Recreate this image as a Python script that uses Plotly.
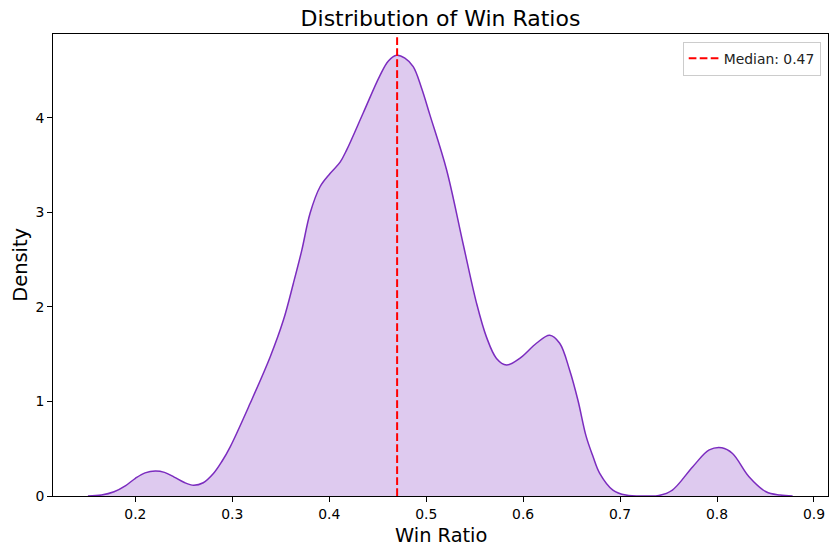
import plotly.graph_objects as go

# KDE curve
win_ratio = [0.151, 0.165, 0.178, 0.19, 0.2, 0.21, 0.2206, 0.23, 0.24, 0.25, 0.26, 0.27,
             0.2807, 0.2895, 0.2978, 0.3184, 0.339, 0.3527, 0.363, 0.3717, 0.3802,
             0.3905, 0.4008, 0.4112, 0.418, 0.435, 0.452, 0.461, 0.4695, 0.478,
             0.4866, 0.495, 0.5038, 0.521, 0.538, 0.5519, 0.5622, 0.5725, 0.5828,
             0.5965, 0.6137, 0.6274, 0.6377, 0.648, 0.6566, 0.665, 0.672, 0.679,
             0.6926, 0.706, 0.727, 0.74, 0.754, 0.775, 0.792, 0.805, 0.816, 0.833,
             0.8506, 0.865, 0.878]
density = [0.0, 0.01, 0.045, 0.11, 0.187, 0.245, 0.265, 0.25, 0.2, 0.145, 0.113, 0.14,
           0.24, 0.37, 0.52, 0.98, 1.47, 1.86, 2.25, 2.60, 2.99,
           3.27, 3.41, 3.53, 3.66, 4.05, 4.44, 4.60, 4.66, 4.63,
           4.54, 4.32, 4.03, 3.45, 2.67, 2.04, 1.68, 1.455, 1.385,
           1.455, 1.615, 1.70, 1.615, 1.33, 1.01, 0.63, 0.42, 0.24,
           0.063, 0.01, 0.0, 0.005, 0.063, 0.31, 0.487, 0.51, 0.45, 0.204,
           0.045, 0.01, 0.0]
median_value = 0.47
median_label = "Median: 0.47"
x_ticks = [0.2, 0.3, 0.4, 0.5, 0.6, 0.7, 0.8, 0.9]
y_ticks = [0, 1, 2, 3, 4]

FONT = "DejaVu Sans"
LINE = "#7B2CBF"

fig = go.Figure()
fig.add_trace(go.Scatter(
    x=win_ratio, y=density, mode="lines",
    line=dict(color=LINE, width=1.5, shape="spline", smoothing=1.0),
    fill="tozeroy", fillcolor="rgba(123,44,191,0.25)",
    showlegend=False, hoverinfo="skip",
))
fig.add_shape(
    type="line", x0=median_value, x1=median_value, xref="x",
    y0=0, y1=1, yref="paper",
    line=dict(color="red", width=2, dash="7.7px,3.3px"),
    showlegend=True, name=median_label,
)

axis_common = dict(
    showgrid=False, zeroline=False, showline=True, linecolor="black", linewidth=1,
    mirror=True, ticks="outside", ticklen=5, tickwidth=1, tickcolor="black",
    tickfont=dict(family=FONT, size=13.9, color="black"),
)
fig.update_xaxes(range=[0.115, 0.9145], tickvals=x_ticks,
                 ticktext=[f"{v:.1f}" for v in x_ticks], **axis_common)
fig.update_yaxes(range=[0, 4.885], tickvals=y_ticks,
                 ticktext=[str(v) for v in y_ticks], **axis_common)

fig.update_layout(
    width=838, height=554,
    margin=dict(l=53, r=10, t=34, b=58),
    paper_bgcolor="white", plot_bgcolor="white",
    font=dict(family=FONT, color="black"),
    title=dict(text="Distribution of Win Ratios", x=0.5, xref="paper",
               y=1 - 18 / 554, yref="container", yanchor="middle", xanchor="center",
               font=dict(family=FONT, size=22, color="black")),
    legend=dict(x=0.9906, xanchor="right", y=0.9833, yanchor="top",
                bgcolor="rgba(255,255,255,0.8)", bordercolor="#cccccc", borderwidth=1,
                font=dict(family=FONT, size=13.9, color="#222222"),
                itemwidth=30),
    annotations=[
        dict(text="Win Ratio", xref="paper", yref="paper", x=0.5, y=(496 - 535) / 461.7,
             xanchor="center", yanchor="middle", showarrow=False,
             font=dict(family=FONT, size=19.4, color="black")),
        dict(text="Density", xref="paper", yref="paper", x=(20 - 53.3) / 775, y=0.5,
             xanchor="center", yanchor="middle", showarrow=False, textangle=-90,
             font=dict(family=FONT, size=19.4, color="black")),
    ],
)

fig.write_html("out.html")
